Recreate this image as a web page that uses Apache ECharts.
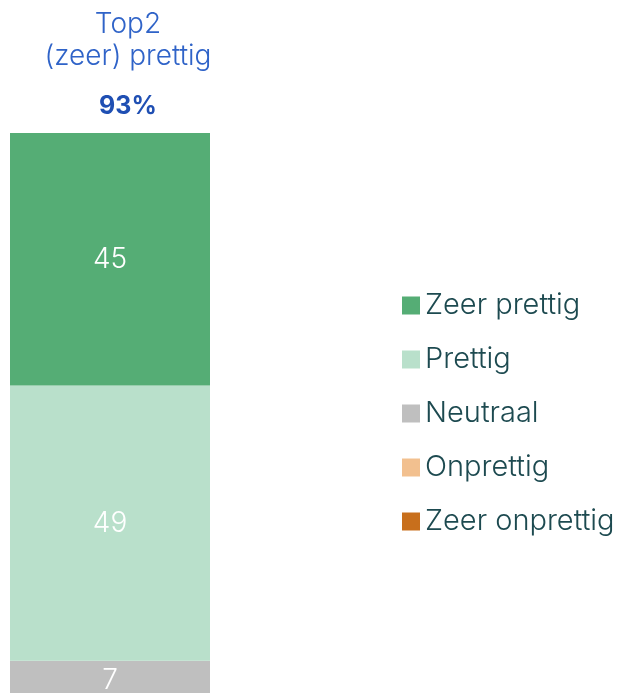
<!DOCTYPE html>
<html>
<head>
<meta charset="utf-8">
<script src="https://cdn.jsdelivr.net/npm/echarts@6/dist/echarts.min.js"></script>
<style>
  html, body { margin: 0; padding: 0; background: #fff; overflow: hidden; }
  #chart { width: 631px; height: 700px; }
</style>
</head>
<body>
<div id="chart"></div>
<script>
var categories = ['Top2'];
var seriesNames = ['Zeer prettig', 'Prettig', 'Neutraal', 'Onprettig', 'Zeer onprettig'];
var zeerPrettig = [45];
var prettig = [49];
var neutraal = [7];
var onprettig = [0];
var zeerOnprettig = [0];
var colors = ['#55ad75', '#b9e0cb', '#bfbfbf', '#f2c08f', '#c86f1c'];
var top2 = '93%';

var chart = echarts.init(document.getElementById('chart'));
var font = 'Inter, Lato, "Noto Sans", sans-serif';

function makeSeries(name, data, color) {
  return {
    name: name,
    type: 'bar',
    stack: 'total',
    barWidth: '100%',
    data: data,
    itemStyle: { color: color },
    label: {
      show: true,
      position: 'inside',
      color: '#fff',
      fontSize: 28,
      fontWeight: 300,
      fontFamily: font,
      formatter: function (p) { return p.value > 0 ? p.value : ''; }
    }
  };
}

chart.setOption({
  animation: false,
  title: {
    text: 'Top2\n(zeer) prettig',
    subtext: top2,
    left: 123,
    textAlign: 'center',
    top: 4,
    itemGap: 21,
    textStyle: { color: '#2f63c8', fontSize: 28, fontWeight: 300, fontFamily: font, lineHeight: 32 },
    subtextStyle: { color: '#1f4fb3', fontSize: 25, fontWeight: 'bold', fontFamily: font }
  },
  legend: {
    orient: 'vertical',
    left: 397,
    top: 286,
    itemWidth: 18,
    itemHeight: 18,
    itemGap: 25,
    icon: 'rect',
    data: seriesNames,
    textStyle: { color: '#1d4a50', fontSize: 29, fontWeight: 300, fontFamily: font }
  },
  grid: { left: 10, width: 200, top: 133, bottom: 0 },
  xAxis: { type: 'category', data: categories, show: false },
  yAxis: { type: 'value', min: 0, max: 101, show: false },
  series: [
    makeSeries(seriesNames[0], zeerPrettig, colors[0]),
    makeSeries(seriesNames[1], prettig, colors[1]),
    makeSeries(seriesNames[2], neutraal, colors[2]),
    makeSeries(seriesNames[3], onprettig, colors[3]),
    makeSeries(seriesNames[4], zeerOnprettig, colors[4])
  ].reverse()
});
</script>
</body>
</html>
